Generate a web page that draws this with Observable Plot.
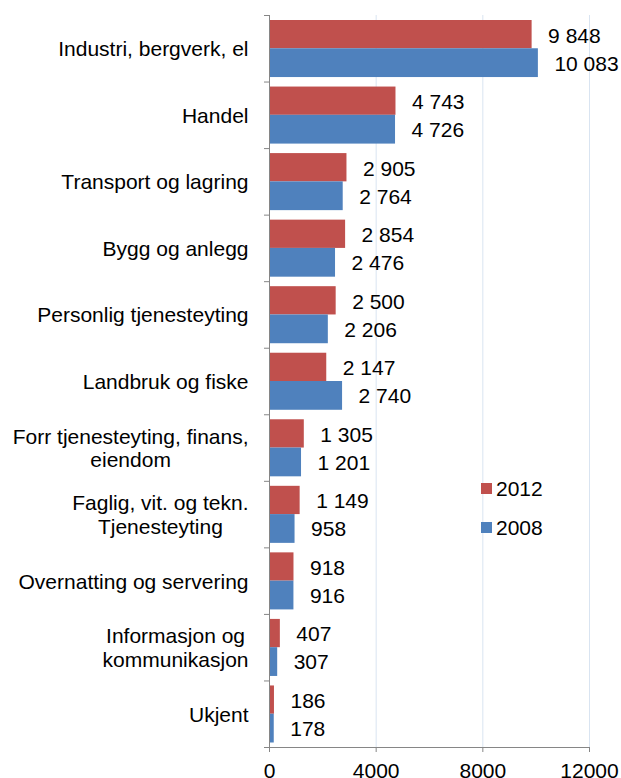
<!DOCTYPE html>
<html>
<head>
<meta charset="utf-8">
<script src="https://cdn.jsdelivr.net/npm/d3@7"></script>
<script src="https://cdn.jsdelivr.net/npm/@observablehq/plot@0.6"></script>
<style>
  html, body { margin: 0; padding: 0; background: #fff; }
  #wrap { position: relative; width: 621px; height: 778px; font-family: "Liberation Sans", Arial, sans-serif; }
  .leg { position: absolute; display: flex; align-items: center; font-size: 21px; color: #000; line-height: 1; }
  .leg span.sw { display: inline-block; width: 11px; height: 11px; margin-right: 4px; }
</style>
</head>
<body>
<div id="wrap"></div>
<script>
const categories = [
  "Industri, bergverk, el",
  "Handel",
  "Transport og lagring",
  "Bygg og anlegg",
  "Personlig tjenesteyting",
  "Landbruk og fiske",
  "Forr tjenesteyting, finans,\neiendom",
  "Faglig, vit. og tekn.\nTjenesteyting",
  "Overnatting og servering",
  "Informasjon og\nkommunikasjon",
  "Ukjent"
];
const values2012 = [9848, 4743, 2905, 2854, 2500, 2147, 1305, 1149, 918, 407, 186];
const values2008 = [10083, 4726, 2764, 2476, 2206, 2740, 1201, 958, 916, 307, 178];
const seriesNames = ["2012", "2008"];
const xTicks = [0, 4000, 8000, 12000];

const colors = {"2012": "#C0504D", "2008": "#4F81BD"};
const W = 621, H = 778, mt = 15, mb = 31, ml = 269, mr = 32;
const step = (H - mt - mb) / categories.length;

const data2012 = categories.map((c, i) => ({cat: c, value: values2012[i]}));
const data2008 = categories.map((c, i) => ({cat: c, value: values2008[i]}));

const loc = d3.formatLocale({decimal: ",", thousands: "\u00a0", grouping: [3], currency: ["", ""]});
const fmt = loc.format(",d");

const axisGray = "#868686";

const chart = Plot.plot({
  width: W, height: H,
  marginLeft: ml, marginRight: mr, marginTop: mt, marginBottom: mb,
  style: {fontFamily: "'Liberation Sans', Arial, sans-serif", fontSize: "21px", background: "#fff", color: "#000", overflow: "visible"},
  x: {domain: [0, 12000]},
  y: {domain: categories, padding: 0, round: false},
  marks: [
    Plot.gridX(xTicks.slice(1), {stroke: "#d9e4f1", strokeOpacity: 1}),
    Plot.barX(data2012, {x: "value", y: "cat", fill: colors["2012"], insetTop: 5, insetBottom: step / 2}),
    Plot.barX(data2008, {x: "value", y: "cat", fill: colors["2008"], insetTop: step / 2, insetBottom: 4.5}),
    Plot.text(data2012, {x: "value", y: "cat", text: d => fmt(d.value), dx: 16, dy: -13, textAnchor: "start", fontSize: 21, fill: "#000"}),
    Plot.text(data2008, {x: "value", y: "cat", text: d => fmt(d.value), dx: 16, dy: 15, textAnchor: "start", fontSize: 21, fill: "#000"}),
    Plot.ruleX([0], {stroke: axisGray}),
    Plot.ruleY([categories[categories.length - 1]], {stroke: axisGray, dy: step / 2}),
    Plot.axisY({tickSize: 0, tickPadding: 21, fontSize: 21, lineHeight: 1.11, label: null, fill: "#000"}),
    Plot.axisY({ticks: categories, tickSize: 5, text: null, dy: -step / 2, stroke: axisGray, label: null}),
    Plot.axisY({ticks: [categories[categories.length - 1]], tickSize: 5, text: null, dy: step / 2, stroke: axisGray, label: null}),
    Plot.axisX({ticks: xTicks, tickSize: 5, tickPadding: 11, tickFormat: d => String(d), fontSize: 21, stroke: axisGray, fill: "#000", label: null})
  ]
});

const wrap = document.getElementById("wrap");
wrap.appendChild(chart);

// Center the lines of multi-line category labels within their right-aligned block
chart.querySelectorAll("text").forEach(t => {
  const spans = t.querySelectorAll("tspan");
  if (spans.length < 2) return;
  let maxW = 0;
  spans.forEach(s => { maxW = Math.max(maxW, s.getComputedTextLength()); });
  t.setAttribute("text-anchor", "middle");
  t.style.textAnchor = "middle";
  spans.forEach(s => s.setAttribute("x", String(-maxW / 2)));
});

const legendPos = [{name: "2012", top: 476}, {name: "2008", top: 515}];
legendPos.forEach(l => {
  const div = document.createElement("div");
  div.className = "leg";
  div.style.left = "481px";
  div.style.top = l.top + "px";
  div.style.height = "24px";
  const sw = document.createElement("span");
  sw.className = "sw";
  sw.style.background = colors[l.name];
  div.appendChild(sw);
  const t = document.createElement("span");
  t.textContent = l.name;
  div.appendChild(t);
  wrap.appendChild(div);
});
</script>
</body>
</html>
